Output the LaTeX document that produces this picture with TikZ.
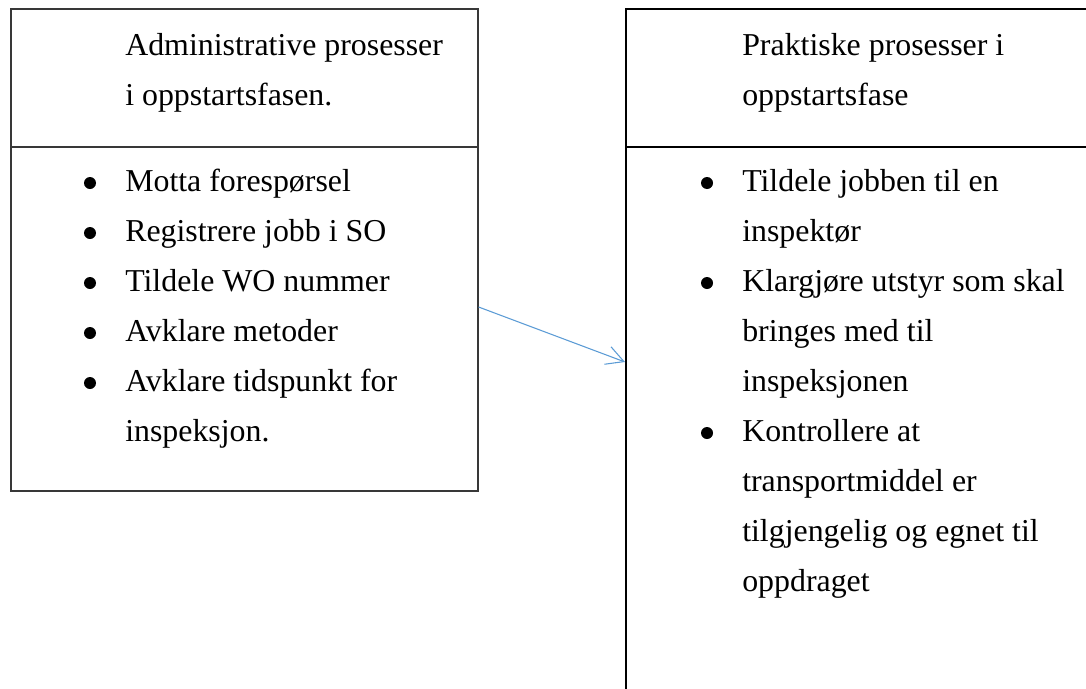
\documentclass[tikz,border=0pt]{standalone}
\usepackage{fontspec}
\setmainfont{Liberation Serif}
\usetikzlibrary{arrows.meta}
\definecolor{linkblue}{HTML}{5B9BD5}
\begin{document}
\begin{tikzpicture}[x=0.75pt,y=-0.75pt,
  frame/.style={draw=black, line width=1.2pt, inner sep=0pt, anchor=north west},
  txt/.style={anchor=base west, inner sep=0pt, font=\fontsize{23.9}{28}\selectfont},
  dot/.style={circle, fill=black, inner sep=0pt, minimum size=9pt},
  link/.style={draw=linkblue, line width=0.8pt, -{Straight Barb[length=13pt,width=14pt]}}]
\useasboundingbox (0,0) rectangle (1086,689);
\clip (0,0) rectangle (1086,689);
% boxes
\node[frame, draw=black!78, minimum width=350.25pt, minimum height=361.5pt] (L) at (10,8) {};
\node[frame, minimum width=400pt, minimum height=560pt] (R) at (625,8) {};
\draw[frame, draw=black!78] (L.west |- 0,147) -- (L.east |- 0,147);
\draw[frame] (R.west |- 0,147) -- (R.east |- 0,147);
% left box texts
\node[txt] (l1) at (125,55) {Administrative prosesser};
\node[txt] (l2) at (125,105) {i oppstartsfasen.};
\node[txt] (l3) at (125,191) {Motta forespørsel};
\node[txt] (l4) at (125,241) {Registrere jobb i SO};
\node[txt] (l5) at (125,291) {Tildele WO nummer};
\node[txt] (l6) at (125,341) {Avklare metoder};
\node[txt] (l7) at (125,391) {Avklare tidspunkt for};
\node[txt] (l8) at (125,441) {inspeksjon.};
\node[dot] (lb1) at (90,183) {};
\node[dot] (lb2) at (90,233) {};
\node[dot] (lb3) at (90,283) {};
\node[dot] (lb4) at (90,333) {};
\node[dot] (lb5) at (90,383) {};
% right box texts
\node[txt] (r1) at (742,55) {Praktiske prosesser i};
\node[txt] (r2) at (742,105) {oppstartsfase};
\node[txt] (r3) at (742,191) {Tildele jobben til en};
\node[txt] (r4) at (742,241) {inspektør};
\node[txt] (r5) at (742,291) {Klargjøre utstyr som skal};
\node[txt] (r6) at (742,341) {bringes med til};
\node[txt] (r7) at (742,391) {inspeksjonen};
\node[txt] (r8) at (742,441) {Kontrollere at};
\node[txt] (r9) at (742,491) {transportmiddel er};
\node[txt] (r10) at (742,541) {tilgjengelig og egnet til};
\node[txt] (r11) at (742,591) {oppdraget};
\node[dot] (rb1) at (707,183) {};
\node[dot] (rb2) at (707,283) {};
\node[dot] (rb3) at (707,433) {};
% connector
\draw[link] (L.east |- 0,307) -- (R.west |- 0,362);
\end{tikzpicture}
\end{document}
